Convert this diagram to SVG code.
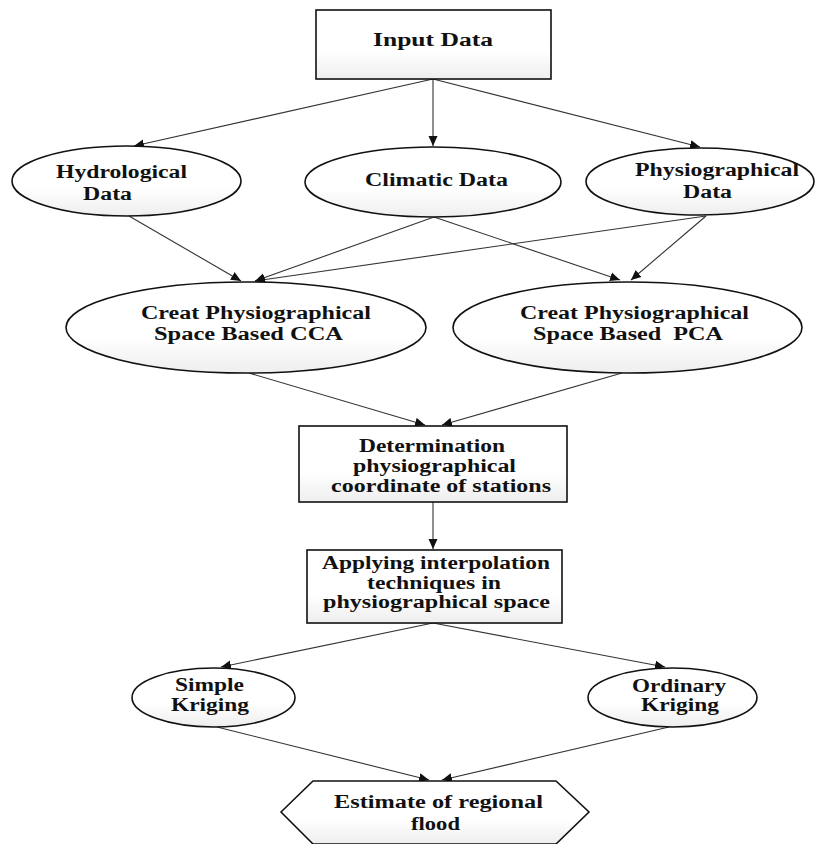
<svg xmlns="http://www.w3.org/2000/svg" width="816" height="844" viewBox="0 0 816 844">
<style>
.s{stroke:#111;stroke-width:1.6;fill:url(#g)}
.t{font-family:"Liberation Serif","Times New Roman",serif;font-weight:bold;font-size:18px;fill:#111;text-anchor:middle}
.c{stroke:#333;stroke-width:1.1;fill:none;marker-end:url(#a)}
</style>
<defs>
<linearGradient id="g" x1="0" y1="0" x2="0" y2="1">
<stop offset="0" stop-color="#ffffff"/>
<stop offset="0.6" stop-color="#ffffff"/>
<stop offset="1" stop-color="#eeeeee"/>
</linearGradient>
<marker id="a" viewBox="0 0 10 10" refX="10" refY="5" markerWidth="10" markerHeight="10" markerUnits="userSpaceOnUse" orient="auto">
<path d="M0,0.5 L10,5 L0,9.5 Z" fill="#111"/>
</marker>
</defs>
<rect width="816" height="844" fill="#fff"/>
<g id="connectors">
<line class="c" x1="433" y1="79" x2="134" y2="146"/>
<line class="c" x1="433" y1="79" x2="433" y2="146"/>
<line class="c" x1="433" y1="79" x2="700" y2="147"/>
<line class="c" x1="129" y1="216" x2="241" y2="281"/>
<line class="c" x1="434" y1="217" x2="255" y2="281"/>
<line class="c" x1="706" y1="216" x2="255" y2="281"/>
<line class="c" x1="434" y1="217" x2="620" y2="280"/>
<line class="c" x1="706" y1="216" x2="631" y2="280"/>
<line class="c" x1="249" y1="373" x2="425" y2="425"/>
<line class="c" x1="622" y1="373" x2="442" y2="425"/>
<line class="c" x1="433" y1="502" x2="433" y2="549"/>
<line class="c" x1="433" y1="623" x2="221" y2="667"/>
<line class="c" x1="433" y1="623" x2="665" y2="667"/>
<line class="c" x1="217" y1="727" x2="429" y2="780"/>
<line class="c" x1="669" y1="727" x2="442" y2="780"/>
</g>
<g id="input">
<rect class="s" x="316" y="10" width="235" height="69"/>
<text class="t" x="433" y="46" font-size="20" textLength="120" lengthAdjust="spacingAndGlyphs">Input Data</text>
</g>
<g id="hydro">
<ellipse class="s" cx="126.5" cy="181" rx="114.5" ry="35"/>
<text class="t" x="121.5" y="178" font-size="17" textLength="131" lengthAdjust="spacingAndGlyphs">Hydrological</text>
<text class="t" x="107.5" y="200" font-size="17" textLength="49" lengthAdjust="spacingAndGlyphs">Data</text>
</g>
<g id="climatic">
<ellipse class="s" cx="433" cy="182" rx="128" ry="35"/>
<text class="t" x="436.5" y="186" font-size="17" textLength="143" lengthAdjust="spacingAndGlyphs">Climatic Data</text>
</g>
<g id="physio">
<ellipse class="s" cx="700" cy="181.5" rx="114" ry="33.5"/>
<text class="t" x="717" y="176" font-size="17" textLength="164" lengthAdjust="spacingAndGlyphs">Physiographical</text>
<text class="t" x="707.5" y="198" font-size="17" textLength="49" lengthAdjust="spacingAndGlyphs">Data</text>
</g>
<g id="cca">
<ellipse class="s" cx="246" cy="327.5" rx="180" ry="45.5"/>
<text class="t" x="256" y="319" textLength="230" lengthAdjust="spacingAndGlyphs">Creat Physiographical</text>
<text class="t" x="248.5" y="340" textLength="189" lengthAdjust="spacingAndGlyphs">Space Based CCA</text>
</g>
<g id="pca">
<ellipse class="s" cx="627.5" cy="327.5" rx="174.5" ry="45.5"/>
<text class="t" x="634.5" y="319" textLength="229" lengthAdjust="spacingAndGlyphs">Creat Physiographical</text>
<text class="t" x="628" y="340" textLength="190" lengthAdjust="spacingAndGlyphs" style="white-space:pre">Space Based  PCA</text>
</g>
<g id="determination">
<rect class="s" x="299" y="426" width="268" height="76"/>
<text class="t" x="432" y="452" textLength="146" lengthAdjust="spacingAndGlyphs">Determination</text>
<text class="t" x="434.5" y="472" textLength="163" lengthAdjust="spacingAndGlyphs">physiographical</text>
<text class="t" x="441" y="492" textLength="220" lengthAdjust="spacingAndGlyphs">coordinate of stations</text>
</g>
<g id="applying">
<rect class="s" x="307" y="550" width="255" height="73"/>
<text class="t" x="436" y="569" textLength="228" lengthAdjust="spacingAndGlyphs">Applying interpolation</text>
<text class="t" x="434" y="589" textLength="134" lengthAdjust="spacingAndGlyphs">techniques in</text>
<text class="t" x="436.5" y="608" textLength="227" lengthAdjust="spacingAndGlyphs">physiographical space</text>
</g>
<g id="simple">
<ellipse class="s" cx="213.5" cy="697.5" rx="81.5" ry="29.5"/>
<text class="t" x="209.5" y="691" textLength="69" lengthAdjust="spacingAndGlyphs">Simple</text>
<text class="t" x="210" y="711" textLength="78" lengthAdjust="spacingAndGlyphs">Kriging</text>
</g>
<g id="ordinary">
<ellipse class="s" cx="672.5" cy="697.5" rx="84.5" ry="29.5"/>
<text class="t" x="679" y="692" textLength="94" lengthAdjust="spacingAndGlyphs">Ordinary</text>
<text class="t" x="680" y="711" textLength="78" lengthAdjust="spacingAndGlyphs">Kriging</text>
</g>
<g id="estimate">
<polygon class="s" points="281,812 313,781 556,781 589,812 556,844 313,844"/>
<text class="t" x="438.5" y="808" textLength="209" lengthAdjust="spacingAndGlyphs">Estimate of regional</text>
<text class="t" x="435.5" y="830" textLength="49" lengthAdjust="spacingAndGlyphs">flood</text>
</g>
</svg>
